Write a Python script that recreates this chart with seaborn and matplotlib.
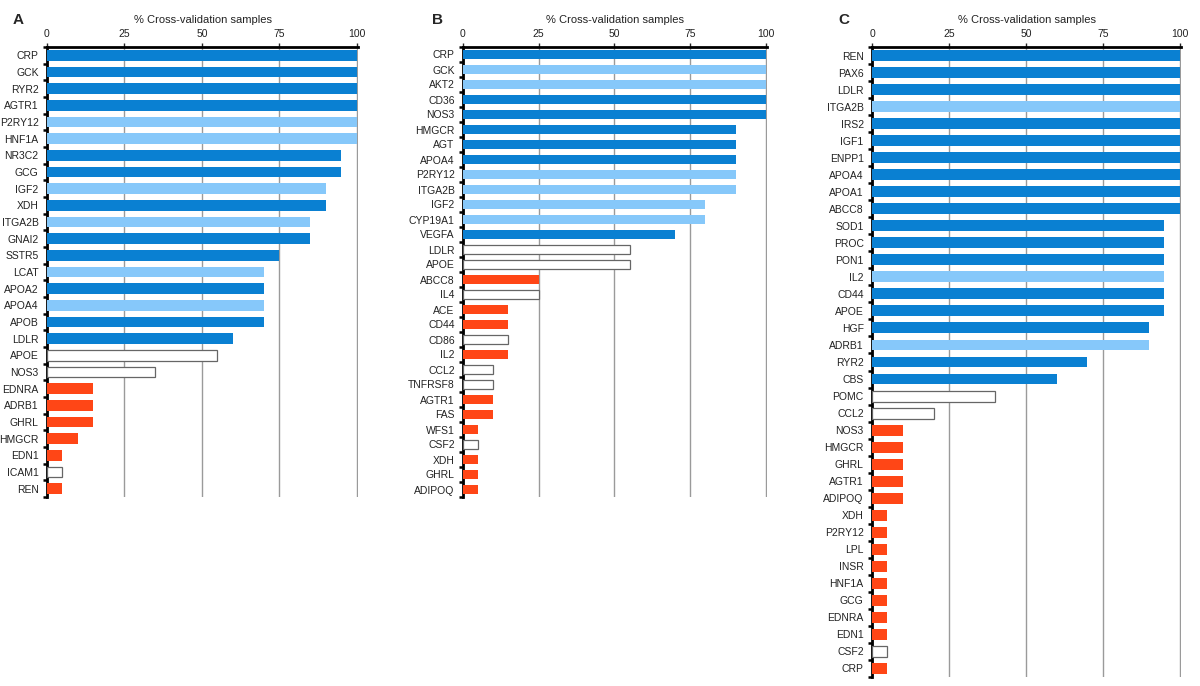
import numpy as np
import pandas as pd
import matplotlib
matplotlib.use("Agg")
import matplotlib.pyplot as plt
import seaborn as sns

sns.set_style("white")
plt.rcParams["font.family"] = ["Liberation Sans", "DejaVu Sans"]

# d = dark blue, l = light blue, o = open (white), r = red
genes_a = ["CRP", "GCK", "RYR2", "AGTR1", "P2RY12", "HNF1A", "NR3C2", "GCG", "IGF2",
           "XDH", "ITGA2B", "GNAI2", "SSTR5", "LCAT", "APOA2", "APOA4", "APOB", "LDLR",
           "APOE", "NOS3", "EDNRA", "ADRB1", "GHRL", "HMGCR", "EDN1", "ICAM1", "REN"]
pct_a = [100, 100, 100, 100, 100, 100, 95, 95, 90, 90, 85, 85, 75, 70, 70, 70, 70, 60,
         55, 35, 15, 15, 15, 10, 5, 5, 5]
grp_a = ["d", "d", "d", "d", "l", "l", "d", "d", "l", "d", "l", "d", "d", "l", "d", "l",
         "d", "d", "o", "o", "r", "r", "r", "r", "r", "o", "r"]

genes_b = ["CRP", "GCK", "AKT2", "CD36", "NOS3", "HMGCR", "AGT", "APOA4", "P2RY12",
           "ITGA2B", "IGF2", "CYP19A1", "VEGFA", "LDLR", "APOE", "ABCC8", "IL4", "ACE",
           "CD44", "CD86", "IL2", "CCL2", "TNFRSF8", "AGTR1", "FAS", "WFS1", "CSF2",
           "XDH", "GHRL", "ADIPOQ"]
pct_b = [100, 100, 100, 100, 100, 90, 90, 90, 90, 90, 80, 80, 70, 55, 55, 25, 25, 15,
         15, 15, 15, 10, 10, 10, 10, 5, 5, 5, 5, 5]
grp_b = ["d", "l", "l", "d", "d", "d", "d", "d", "l", "l", "l", "l", "d", "o", "o", "r",
         "o", "r", "r", "o", "r", "o", "o", "r", "r", "r", "o", "r", "r", "r"]

genes_c = ["REN", "PAX6", "LDLR", "ITGA2B", "IRS2", "IGF1", "ENPP1", "APOA4", "APOA1",
           "ABCC8", "SOD1", "PROC", "PON1", "IL2", "CD44", "APOE", "HGF", "ADRB1",
           "RYR2", "CBS", "POMC", "CCL2", "NOS3", "HMGCR", "GHRL", "AGTR1", "ADIPOQ",
           "XDH", "P2RY12", "LPL", "INSR", "HNF1A", "GCG", "EDNRA", "EDN1", "CSF2", "CRP"]
pct_c = [100, 100, 100, 100, 100, 100, 100, 100, 100, 100, 95, 95, 95, 95, 95, 95, 90,
         90, 70, 60, 40, 20, 10, 10, 10, 10, 10, 5, 5, 5, 5, 5, 5, 5, 5, 5, 5]
grp_c = ["d", "d", "d", "l", "d", "d", "d", "d", "d", "d", "d", "d", "d", "l", "d", "d",
         "d", "l", "d", "d", "o", "o", "r", "r", "r", "r", "r", "r", "r", "r", "r", "r",
         "r", "r", "r", "o", "r"]

palette = {"d": "#0a80d2", "l": "#86c8fa", "o": "#ffffff", "r": "#ff4616"}


def panel(rect, genes, pct, grp, letter, letter_x):
    ax = fig.add_axes(rect)
    df = pd.DataFrame({"gene": genes, "pct": pct, "grp": grp})
    sns.barplot(data=df, x="pct", y="gene", hue="grp", palette=palette, dodge=False,
                width=0.64, saturation=1, legend=False, ax=ax, zorder=3)
    for p in ax.patches:
        if tuple(p.get_facecolor()[:3]) == (1.0, 1.0, 1.0):
            p.set_edgecolor("#666666")
            p.set_linewidth(0.9)
        else:
            p.set_linewidth(0)
    ax.set_xlim(0, 100.4)
    ax.set_xticks([0, 25, 50, 75, 100])
    ax.xaxis.tick_top()
    ax.xaxis.set_label_position("top")
    ax.set_xlabel("% Cross-validation samples", fontsize=8, labelpad=4, color="#222222")
    ax.set_ylabel("")
    ax.set_axisbelow(True)
    ax.xaxis.grid(True, color="#9a9a9a", lw=1)
    ax.yaxis.grid(False)
    n = len(genes)
    ax.set_yticks(np.arange(-0.5, n), minor=True)
    ax.tick_params(axis="y", which="major", length=0, pad=6, labelsize=7.5,
                   labelcolor="#222222")
    ax.tick_params(axis="y", which="minor", length=3, width=1.8, color="black", left=True)
    ax.tick_params(axis="x", which="major", length=3, width=1, pad=3, labelsize=7.5,
                   top=True, labelcolor="#222222")
    for s in ["right", "bottom"]:
        ax.spines[s].set_visible(False)
    for s in ["top", "left"]:
        ax.spines[s].set_linewidth(2)
        ax.spines[s].set_color("black")
    fig.text(letter_x, 1 - 20 / 686, letter, fontsize=11, fontweight="bold",
             va="center", ha="left")
    return ax


fig = plt.figure(figsize=(12, 6.86), dpi=100)
panel([47 / 1200, 1 - 497 / 686, 311 / 1200, 450 / 686], genes_a, pct_a, grp_a, "A", 13 / 1200)
panel([463 / 1200, 1 - 497 / 686, 304 / 1200, 450 / 686], genes_b, pct_b, grp_b, "B", 432 / 1200)
panel([872 / 1200, 1 - 677 / 686, 309 / 1200, 630 / 686], genes_c, pct_c, grp_c, "C", 838 / 1200)

fig.savefig("out.png", dpi=100)
